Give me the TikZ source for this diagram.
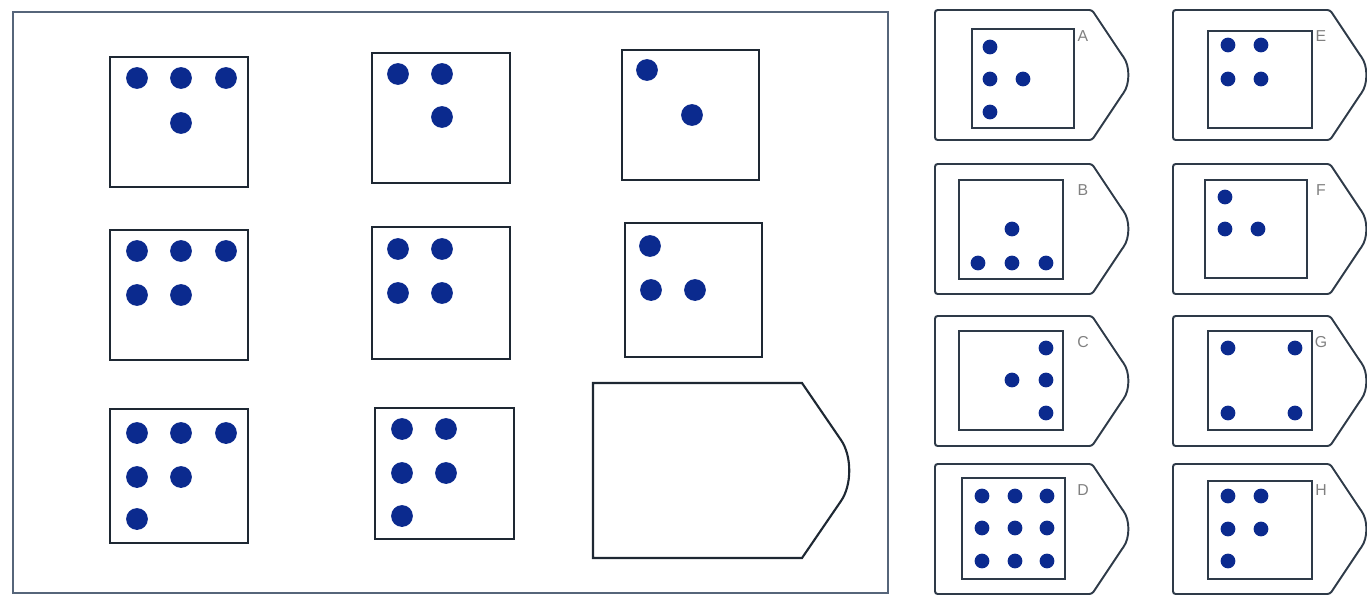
\documentclass[tikz,border=0pt]{standalone}
\usepackage{fontspec}
\setsansfont{Liberation Sans}
\usepackage{tikz}
\definecolor{pipblue}{HTML}{0B2A8E}
\definecolor{framegray}{HTML}{56657A}
\definecolor{celledge}{HTML}{1E2833}
\definecolor{tagedge}{HTML}{2E3A48}

\begin{document}
\begin{tikzpicture}[
    x=0.02cm, y=-0.02cm,
    cell/.style={draw=celledge, line width=1.4pt},
    minicell/.style={draw=tagedge, line width=1pt},
    tagline/.style={draw=tagedge, line width=1.1pt, rounded corners=1.5pt},
    pip/.style={fill=pipblue},
    letter/.style={text=gray, font=\sffamily\fontsize{9}{10}\selectfont, inner sep=0pt},
]

\useasboundingbox (0,0) rectangle (1367,596);

% Puzzle frame
\draw[framegray, line width=1.6pt] (13,12) rectangle (888,593);

% Row 1
\draw[cell] (110,57) rectangle (248,187);
\foreach \x/\y in {137/78, 181/78, 226/78, 181/123}
    \fill[pip] (\x,\y) circle (6.2pt);
\draw[cell] (372,53) rectangle (510,183);
\foreach \x/\y in {398/74, 442/74, 442/117}
    \fill[pip] (\x,\y) circle (6.2pt);
\draw[cell] (622,50) rectangle (759,180);
\foreach \x/\y in {647/70, 692/115}
    \fill[pip] (\x,\y) circle (6.2pt);

% Row 2
\draw[cell] (110,230) rectangle (248,360);
\foreach \x/\y in {137/251, 181/251, 226/251, 137/295, 181/295}
    \fill[pip] (\x,\y) circle (6.2pt);
\draw[cell] (372,227) rectangle (510,359);
\foreach \x/\y in {398/249, 442/249, 398/293, 442/293}
    \fill[pip] (\x,\y) circle (6.2pt);
\draw[cell] (625,223) rectangle (762,357);
\foreach \x/\y in {650/246, 651/290, 695/290}
    \fill[pip] (\x,\y) circle (6.2pt);

% Row 3
\draw[cell] (110,409) rectangle (248,543);
\foreach \x/\y in {137/433, 181/433, 226/433, 137/477, 181/477, 137/519}
    \fill[pip] (\x,\y) circle (6.2pt);
\draw[cell] (375,408) rectangle (514,539);
\foreach \x/\y in {402/429, 446/429, 402/473, 446/473, 402/516}
    \fill[pip] (\x,\y) circle (6.2pt);

% Missing piece
\draw[cell, line width=1.2pt] (593,383) -- (802,383) -- (841,440)
    .. controls (852,456) and (852,485) .. (841,501) -- (802,558) -- (593,558) -- cycle;

% Answer tags
\foreach \x/\y/\l in {935/10/A, 935/164/B, 935/316/C, 935/464/D,
                      1173/10/E, 1173/164/F, 1173/316/G, 1173/464/H} {
    \draw[tagline] (\x,\y) -- ({\x+157},\y) -- ({\x+187},{\y+45})
        .. controls ({\x+195},{\y+56}) and ({\x+195},{\y+74}) .. ({\x+187},{\y+85})
        -- ({\x+157},{\y+130}) -- (\x,{\y+130}) -- cycle;
    \node[letter] (lab\l) at ({\x+148},{\y+26}) {\l};
}

% A
\draw[minicell] (972,29) rectangle (1074,128);
\foreach \x/\y in {990/47, 990/79, 1023/79, 990/112}
    \fill[pip] (\x,\y) circle (4.2pt);
% B
\draw[minicell] (959,180) rectangle (1063,279);
\foreach \x/\y in {1012/229, 978/263, 1012/263, 1046/263}
    \fill[pip] (\x,\y) circle (4.2pt);
% C
\draw[minicell] (959,331) rectangle (1063,430);
\foreach \x/\y in {1046/348, 1012/380, 1046/380, 1046/413}
    \fill[pip] (\x,\y) circle (4.2pt);
% D
\draw[minicell] (962,478) rectangle (1065,579);
\foreach \x in {982, 1015, 1047}
    \foreach \y in {496, 528, 561}
        \fill[pip] (\x,\y) circle (4.2pt);
% E
\draw[minicell] (1208,31) rectangle (1312,128);
\foreach \x/\y in {1228/45, 1261/45, 1228/79, 1261/79}
    \fill[pip] (\x,\y) circle (4.2pt);
% F
\draw[minicell] (1205,180) rectangle (1307,278);
\foreach \x/\y in {1225/197, 1225/229, 1258/229}
    \fill[pip] (\x,\y) circle (4.2pt);
% G
\draw[minicell] (1208,331) rectangle (1312,430);
\foreach \x/\y in {1228/348, 1295/348, 1228/413, 1295/413}
    \fill[pip] (\x,\y) circle (4.2pt);
% H
\draw[minicell] (1208,481) rectangle (1312,579);
\foreach \x/\y in {1228/496, 1261/496, 1228/529, 1261/529, 1228/561}
    \fill[pip] (\x,\y) circle (4.2pt);

\end{tikzpicture}
\end{document}
